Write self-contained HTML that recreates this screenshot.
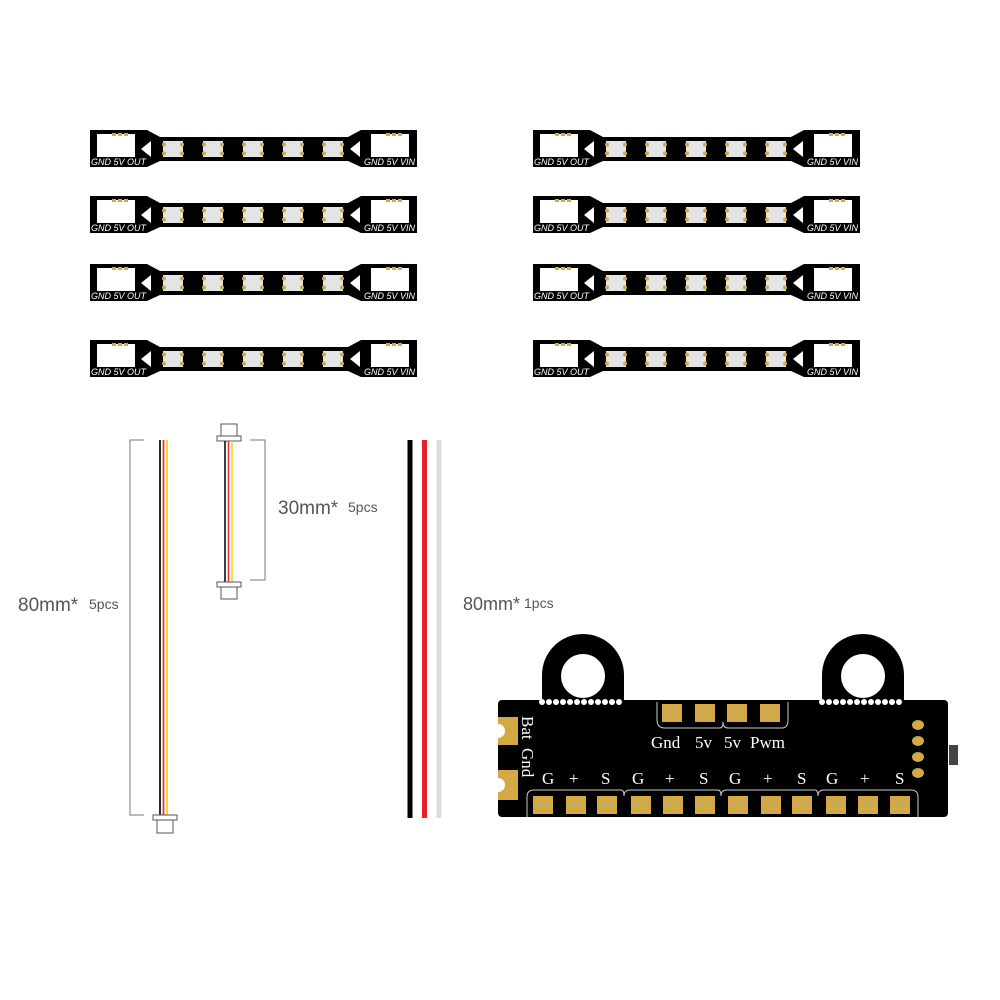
<!DOCTYPE html>
<html><head><meta charset="utf-8"><style>
html,body{margin:0;padding:0;background:#fff;width:1000px;height:1000px;overflow:hidden}
svg{display:block}
.st{font-family:"Liberation Sans",sans-serif;font-size:9px;font-style:italic;fill:#fff}
.lb{font-family:"Liberation Sans",sans-serif;fill:#555}
.bd{font-family:"Liberation Serif",serif;fill:#fff;font-size:17px}
</style></head><body>
<svg width="1000" height="1000" viewBox="0 0 1000 1000" xmlns="http://www.w3.org/2000/svg">
<defs>
<g id="led">
<rect x="1" y="0" width="20" height="16" fill="#e4e4e4"/>
<circle cx="2" cy="3.5" r="2" fill="#d4a843"/><circle cx="2" cy="12.5" r="2" fill="#d4a843"/>
<circle cx="20" cy="3.5" r="2" fill="#d4a843"/><circle cx="20" cy="12.5" r="2" fill="#d4a843"/>
</g>
<g id="strip">
<path d="M0,0 H57 L70,7 H258 L271,0 H327 V37 H271 L258,31 H70 L57,37 H0 Z" fill="#000"/>
<rect x="7" y="4" width="38" height="23" fill="#fff"/>
<rect x="22" y="3" width="4" height="3" fill="#d4a843"/><rect x="28" y="3" width="4" height="3" fill="#d4a843"/><rect x="34" y="3" width="4" height="3" fill="#d4a843"/>
<rect x="281" y="4" width="38" height="23" fill="#fff"/>
<rect x="296" y="3" width="4" height="3" fill="#d4a843"/><rect x="302" y="3" width="4" height="3" fill="#d4a843"/><rect x="308" y="3" width="4" height="3" fill="#d4a843"/>
<polygon points="51,19 61,11 61,27" fill="#fff"/>
<polygon points="260,19 270,11 270,27" fill="#fff"/>
<use href="#led" x="72" y="11"/><use href="#led" x="112" y="11"/><use href="#led" x="152" y="11"/><use href="#led" x="192" y="11"/><use href="#led" x="232" y="11"/>
</g>
<g id="pad"><rect x="0" y="0" width="20" height="18" fill="#d4a843"/><circle cx="7" cy="8" r="1.3" fill="#9ab"/><circle cx="13" cy="8" r="1.3" fill="#9ab"/></g>
</defs>

<use href="#strip" x="90" y="130"/><use href="#strip" x="533" y="130"/>
<use href="#strip" x="90" y="196"/><use href="#strip" x="533" y="196"/>
<use href="#strip" x="90" y="264"/><use href="#strip" x="533" y="264"/>
<use href="#strip" x="90" y="340"/><use href="#strip" x="533" y="340"/>
<text class="st" x="91" y="165">GND 5V OUT</text><text class="st" x="415" y="165" text-anchor="end">GND 5V VIN</text>
<text class="st" x="534" y="165">GND 5V OUT</text><text class="st" x="858" y="165" text-anchor="end">GND 5V VIN</text>
<text class="st" x="91" y="231">GND 5V OUT</text><text class="st" x="415" y="231" text-anchor="end">GND 5V VIN</text>
<text class="st" x="534" y="231">GND 5V OUT</text><text class="st" x="858" y="231" text-anchor="end">GND 5V VIN</text>
<text class="st" x="91" y="299">GND 5V OUT</text><text class="st" x="415" y="299" text-anchor="end">GND 5V VIN</text>
<text class="st" x="534" y="299">GND 5V OUT</text><text class="st" x="858" y="299" text-anchor="end">GND 5V VIN</text>
<text class="st" x="91" y="375">GND 5V OUT</text><text class="st" x="415" y="375" text-anchor="end">GND 5V VIN</text>
<text class="st" x="534" y="375">GND 5V OUT</text><text class="st" x="858" y="375" text-anchor="end">GND 5V VIN</text>

<path d="M144,440 H130 V815 H144" fill="none" stroke="#777" stroke-width="1"/>
<line x1="160" y1="440" x2="160" y2="816" stroke="#111" stroke-width="1.8"/>
<line x1="163.5" y1="440" x2="163.5" y2="816" stroke="#e8333a" stroke-width="1.8"/>
<line x1="167" y1="440" x2="167" y2="816" stroke="#f7d21e" stroke-width="1.8"/>
<rect x="153" y="815" width="24" height="5" fill="#fff" stroke="#555"/>
<rect x="157" y="820" width="16" height="13" fill="#fff" stroke="#555"/>
<text class="lb" x="18" y="611" font-size="19">80mm*</text><text class="lb" x="89" y="609" font-size="14">5pcs</text>

<rect x="221" y="424" width="16" height="12" fill="#fff" stroke="#555"/>
<rect x="217" y="436" width="24" height="5" fill="#fff" stroke="#555"/>
<line x1="225" y1="441" x2="225" y2="582" stroke="#111" stroke-width="1.6"/>
<line x1="228.5" y1="441" x2="228.5" y2="582" stroke="#e8333a" stroke-width="1.6"/>
<line x1="232" y1="441" x2="232" y2="582" stroke="#f7d21e" stroke-width="1.6"/>
<rect x="217" y="582" width="24" height="5" fill="#fff" stroke="#555"/>
<rect x="221" y="587" width="16" height="12" fill="#fff" stroke="#555"/>
<path d="M250,440 H265 V580 H250" fill="none" stroke="#777" stroke-width="1"/>
<text class="lb" x="278" y="514" font-size="19">30mm*</text><text class="lb" x="348" y="512" font-size="14">5pcs</text>

<line x1="410" y1="440" x2="410" y2="818" stroke="#000" stroke-width="5"/>
<line x1="424.5" y1="440" x2="424.5" y2="818" stroke="#e8202a" stroke-width="5"/>
<line x1="439" y1="440" x2="439" y2="818" stroke="#ddd" stroke-width="5"/>
<text class="lb" x="463" y="610" font-size="18">80mm*</text><text class="lb" x="524" y="608" font-size="14">1pcs</text>

<rect x="949" y="745" width="9" height="20" fill="#444"/>
<path d="M542,705 V675 A41,41 0 0 1 624,675 V705 Z" fill="#000"/>
<path d="M822,705 V675 A41,41 0 0 1 904,675 V705 Z" fill="#000"/>
<rect x="498" y="700" width="450" height="117" rx="4" fill="#000"/>
<circle cx="583" cy="676" r="22" fill="#fff"/><circle cx="863" cy="676" r="22" fill="#fff"/>
<g fill="#fff">
<circle cx="542" cy="702" r="3"/><circle cx="549" cy="702" r="3"/><circle cx="556" cy="702" r="3"/><circle cx="563" cy="702" r="3"/><circle cx="570" cy="702" r="3"/><circle cx="577" cy="702" r="3"/><circle cx="584" cy="702" r="3"/><circle cx="591" cy="702" r="3"/><circle cx="598" cy="702" r="3"/><circle cx="605" cy="702" r="3"/><circle cx="612" cy="702" r="3"/><circle cx="619" cy="702" r="3"/>
<circle cx="822" cy="702" r="3"/><circle cx="829" cy="702" r="3"/><circle cx="836" cy="702" r="3"/><circle cx="843" cy="702" r="3"/><circle cx="850" cy="702" r="3"/><circle cx="857" cy="702" r="3"/><circle cx="864" cy="702" r="3"/><circle cx="871" cy="702" r="3"/><circle cx="878" cy="702" r="3"/><circle cx="885" cy="702" r="3"/><circle cx="892" cy="702" r="3"/><circle cx="899" cy="702" r="3"/>
</g>
<rect x="498" y="717" width="20" height="28" fill="#d4a843"/><circle cx="498" cy="731" r="7" fill="#fff"/>
<rect x="498" y="770" width="20" height="30" fill="#d4a843"/><circle cx="498" cy="785" r="7" fill="#fff"/>
<text class="bd" font-size="16" transform="translate(522,716) rotate(90)">Bat</text>
<text class="bd" font-size="16" transform="translate(522,748) rotate(90)">Gnd</text>
<path d="M657,702 V720 Q657,728 665,728 H720 Q723,728 723,722 Q723,728 728,728 H782 Q788,728 788,720 V702" fill="none" stroke="#ccc" stroke-width="1"/>
<use href="#pad" x="662" y="704"/><use href="#pad" x="695" y="704"/><use href="#pad" x="727" y="704"/><use href="#pad" x="760" y="704"/>
<text class="bd" x="651" y="748">Gnd</text><text class="bd" x="695" y="748">5v</text><text class="bd" x="724" y="748">5v</text><text class="bd" x="750" y="748">Pwm</text>
<ellipse cx="918" cy="725" rx="6" ry="5" fill="#d4a843"/><ellipse cx="918" cy="741" rx="6" ry="5" fill="#d4a843"/><ellipse cx="918" cy="757" rx="6" ry="5" fill="#d4a843"/><ellipse cx="918" cy="773" rx="6" ry="5" fill="#d4a843"/>
<g class="bd">
<text x="542" y="784">G</text><text x="569" y="784">+</text><text x="601" y="784">S</text>
<text x="632" y="784">G</text><text x="665" y="784">+</text><text x="699" y="784">S</text>
<text x="729" y="784">G</text><text x="763" y="784">+</text><text x="797" y="784">S</text>
<text x="826" y="784">G</text><text x="860" y="784">+</text><text x="895" y="784">S</text>
</g>
<g fill="none" stroke="#ccc" stroke-width="1">
<path d="M527,817 V797 Q527,790 534,790 H621 Q624,790 624,796 Q624,790 630,790 H718 Q721,790 721,796 Q721,790 727,790 H815 Q818,790 818,796 Q818,790 824,790 H911 Q918,790 918,797 V817"/>
</g>
<use href="#pad" x="533" y="796"/><use href="#pad" x="566" y="796"/><use href="#pad" x="597" y="796"/>
<use href="#pad" x="631" y="796"/><use href="#pad" x="663" y="796"/><use href="#pad" x="695" y="796"/>
<use href="#pad" x="728" y="796"/><use href="#pad" x="761" y="796"/><use href="#pad" x="792" y="796"/>
<use href="#pad" x="826" y="796"/><use href="#pad" x="858" y="796"/><use href="#pad" x="890" y="796"/>
</svg>
</body></html>
